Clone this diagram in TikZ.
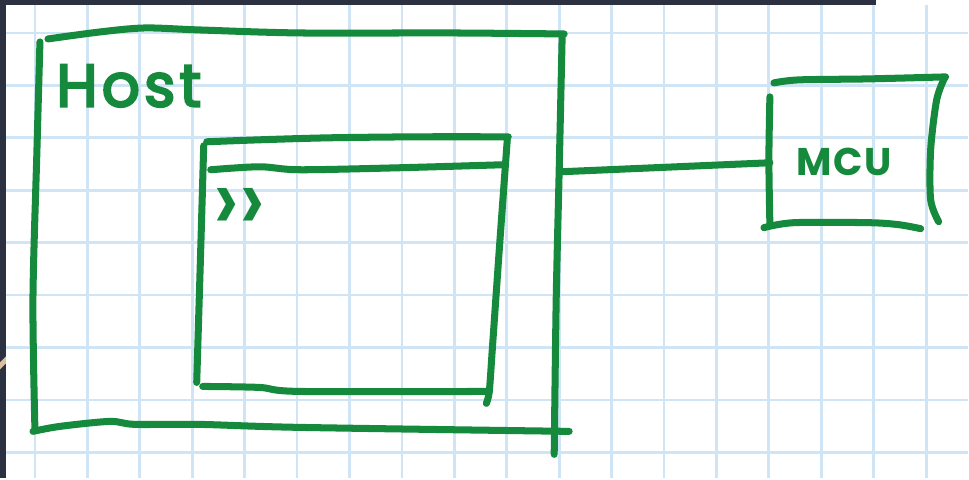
\documentclass[tikz,border=0pt]{standalone}
\usepackage{fontspec}
\newfontfamily\handfont{Poppins}
\usetikzlibrary{positioning}
\definecolor{inkgreen}{HTML}{15893C}
\definecolor{gridblue}{HTML}{CFE4F4}
\definecolor{deskdark}{HTML}{2B3141}
\definecolor{desktan}{HTML}{D9BFA0}

\begin{document}
\begin{tikzpicture}[
  x=0.02cm, y=-0.02cm,
  pen/.style={draw=inkgreen, line width=4pt, line cap=round, line join=round},
  gridline/.style={draw=gridblue, line width=1.6pt},
  scrawl/.style={text=inkgreen, inner sep=0pt}
]
  % paper, grid and desk edges
  \fill[white] (0,0) rectangle (969,479);
  \foreach \gx in {0,...,17}
    \draw[gridline] (35+52.5*\gx,5) -- (35+52.5*\gx,479);
  \foreach \gy in {0,...,8}
    \draw[gridline] (6,33+52.5*\gy) -- (969,33+52.5*\gy);
  \fill[deskdark] (0,0) rectangle (877,5);
  \fill[deskdark] (0,0) rectangle (6,479);
  \fill[desktan] (0,363) -- (6,357) -- (6,364) -- (0,370) -- cycle;

  % host frame
  \draw[pen] plot[smooth] coordinates {(48,39) (100,32) (145,28) (200,30) (300,33) (450,33) (565,34)};
  \draw[pen] plot[smooth] coordinates {(40,42) (37,150) (33,300) (35,431)};
  \draw[pen] plot[smooth] coordinates {(33,432) (60,427) (110,422) (135,425) (200,425) (300,428) (570,432)};
  \draw[pen] plot[smooth] coordinates {(563,35) (560,170) (557,300) (555,455)};
  \node[scrawl, font=\handfont\fontsize{34}{34}\selectfont\addfontfeatures{LetterSpace=7,FakeBold=4}] (host) at (129,86) {Host};

  % terminal window
  \draw[pen] plot[smooth] coordinates {(207,142) (260,140) (330,138) (420,137) (509,137)};
  \draw[pen] plot[smooth] coordinates {(211,170) (260,167) (300,170) (400,168) (503,165)};
  \draw[pen] plot[smooth] coordinates {(204,146) (201,250) (197,383)};
  \draw[pen] plot[smooth] coordinates {(203,387) (260,388) (300,392) (490,392)};
  \draw[pen] plot[smooth] coordinates {(508,140) (500,250) (493,350) (490,392) (487,404)};
  \node[scrawl, font=\handfont\bfseries\fontsize{42}{42}\selectfont] (prompt) at (240,210) {\scalebox{0.6}[1]{\textgreater\kern2pt\textgreater}};

  % MCU board
  \draw[pen] plot[smooth] coordinates {(775,83) (800,80) (870,79) (947,77)};
  \draw[pen] plot[smooth] coordinates {(771,97) (770,160) (771,225)};
  \draw[pen] plot[smooth] coordinates {(765,228) (795,223) (870,223) (900,225) (922,229)};
  \draw[pen] plot[smooth] coordinates {(946,78) (938,100) (932,150) (932,200) (940,222)};
  \node[scrawl, font=\handfont\bfseries\fontsize{22}{22}\selectfont\addfontfeatures{LetterSpace=4}] (mcu) at (845,162) {MCU};

  % serial link
  \coordinate (hostport) at (562,172);
  \coordinate (mcuport) at (771,163);
  \draw[pen] (hostport) -- (mcuport);
\end{tikzpicture}
\end{document}
